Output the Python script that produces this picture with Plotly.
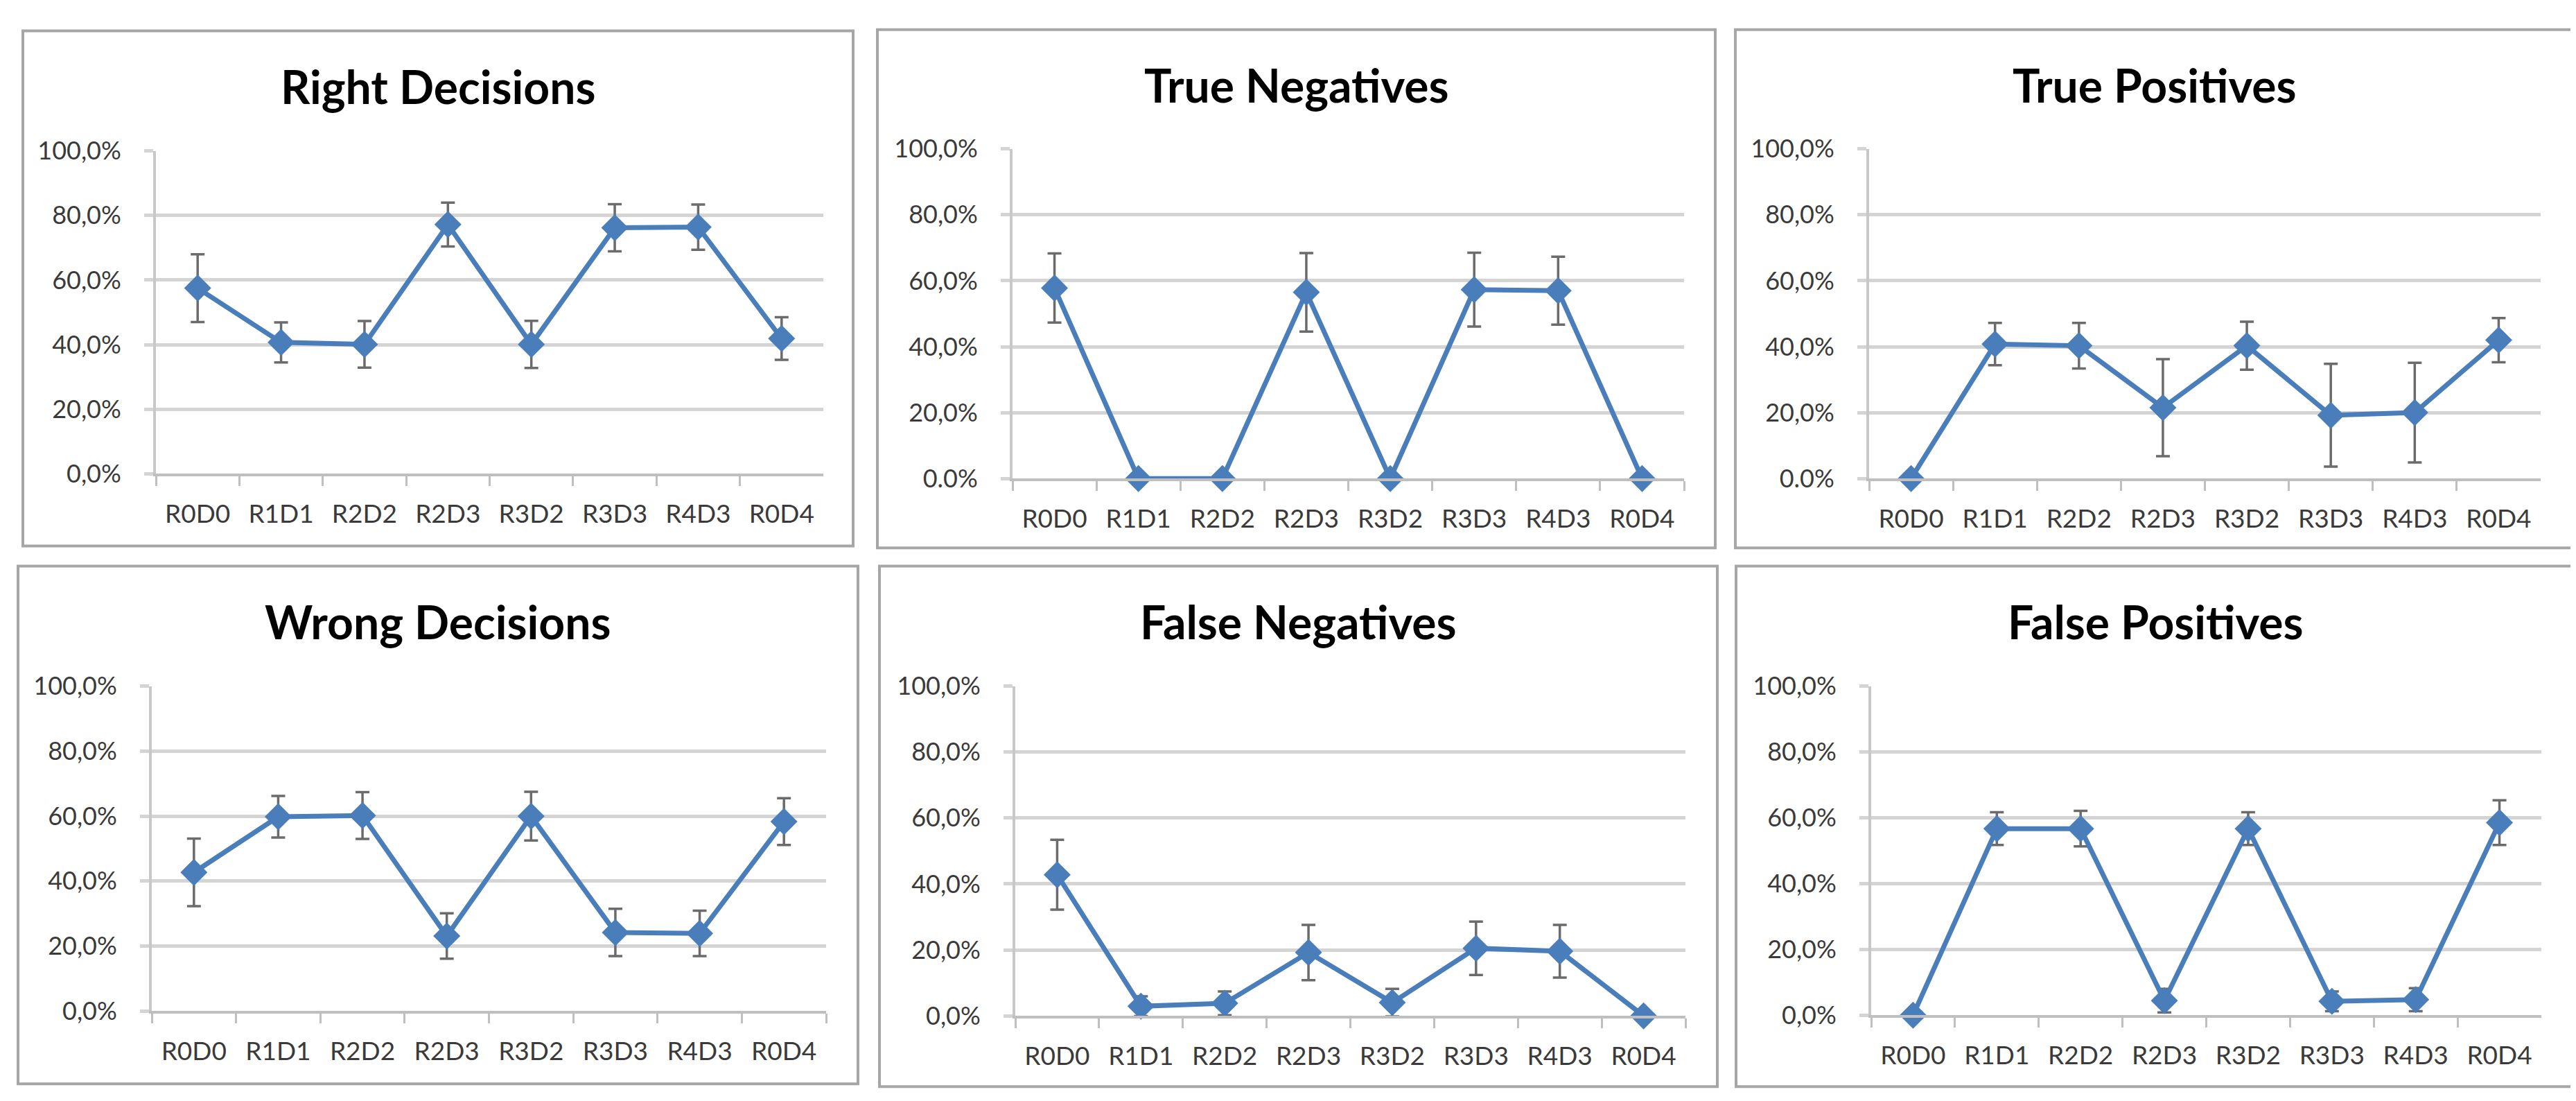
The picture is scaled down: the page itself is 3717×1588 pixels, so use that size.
import plotly.graph_objects as go

W, H = 3717, 1588

categories = ["R0D0", "R1D1", "R2D2", "R2D3", "R3D2", "R3D3", "R4D3", "R0D4"]

titles = ["Right Decisions", "True Negatives", "True Positives",
          "Wrong Decisions", "False Negatives", "False Positives"]

right_decisions = [0.575, 0.407, 0.401, 0.772, 0.401, 0.762, 0.764, 0.419]
right_err = [0.105, 0.062, 0.072, 0.068, 0.073, 0.073, 0.070, 0.066]

true_negatives = [0.578, 0.0, 0.0, 0.565, 0.0, 0.573, 0.570, 0.0]
true_neg_err = [0.105, 0.0, 0.0, 0.119, 0.0, 0.112, 0.103, 0.0]

true_positives = [0.0, 0.408, 0.403, 0.215, 0.403, 0.192, 0.200, 0.420]
true_pos_err = [0.0, 0.064, 0.069, 0.147, 0.073, 0.156, 0.151, 0.067]

wrong_decisions = [0.427, 0.598, 0.602, 0.231, 0.600, 0.242, 0.239, 0.583]
wrong_err = [0.104, 0.064, 0.072, 0.070, 0.075, 0.073, 0.070, 0.072]

false_negatives = [0.428, 0.029, 0.038, 0.192, 0.040, 0.205, 0.196, 0.0]
false_neg_err = [0.106, 0.030, 0.036, 0.084, 0.042, 0.081, 0.080, 0.0]

false_positives = [0.0, 0.567, 0.567, 0.044, 0.567, 0.042, 0.047, 0.585]
false_pos_err = [0.0, 0.050, 0.054, 0.036, 0.050, 0.030, 0.035, 0.068]

y_tick_vals = [0.0, 0.2, 0.4, 0.6, 0.8, 1.0]
y_ticks_comma = ["0,0%", "20,0%", "40,0%", "60,0%", "80,0%", "100,0%"]
y_ticks_dot0 = ["0.0%", "20,0%", "40,0%", "60,0%", "80,0%", "100,0%"]

series = [right_decisions, true_negatives, true_positives,
          wrong_decisions, false_negatives, false_positives]
errors = [right_err, true_neg_err, true_pos_err,
          wrong_err, false_neg_err, false_pos_err]
tick_texts = [y_ticks_comma, y_ticks_dot0, y_ticks_dot0,
              y_ticks_comma, y_ticks_comma, y_ticks_comma]

# layout (pixel geometry)
plot_areas = [  # x0, x1, ytop, ybottom
    (217, 1180, 192, 671),
    (1453, 2422, 189, 678),
    (2689, 3658, 189, 678),
    (211, 1184, 986, 1468),
    (1457, 2424, 986, 1475),
    (2692, 3659, 986, 1474),
]
boxes = [  # x0, x1, y0, y1
    (25, 1223, 14, 778),
    (1258, 2467, 12, 781),
    (2496, 3705, 12, 781),
    (18, 1230, 808, 1576),
    (1261, 2470, 808, 1580),
    (2497, 3708, 808, 1580),
]
title_y = [96, 94, 94, 890, 890, 890]

BLUE = "#4a7ebb"
GRID = "#d4d4d4"
AXIS = "#bfbfbf"
FONT = "Lato, Carlito, 'Open Sans', sans-serif"

fig = go.Figure()
layout = dict(width=W, height=H, margin=dict(l=0, r=0, t=0, b=0),
              paper_bgcolor="white", plot_bgcolor="white", showlegend=False,
              font=dict(family=FONT, size=36, color="#404040"))
shapes = []
annotations = []

for i in range(6):
    n = "" if i == 0 else str(i + 1)
    x0, x1, yt, yb = plot_areas[i]
    fig.add_trace(go.Scatter(
        x=categories, y=series[i], mode="lines+markers",
        xaxis="x" + n, yaxis="y" + n, cliponaxis=False,
        line=dict(color=BLUE, width=7),
        marker=dict(symbol="diamond", size=30, color=BLUE),
        error_y=dict(type="data", array=errors[i], visible=True,
                     color="#6b6b6b", thickness=3.5, width=10),
        hoverinfo="x+y",
    ))
    layout["xaxis" + n] = dict(
        domain=[x0 / W, x1 / W], anchor="y" + n, type="category",
        range=[-0.5, 7.5], tickson="boundaries", ticks="outside", ticklen=14,
        tickwidth=3, tickcolor=AXIS, showline=True, linecolor=AXIS, linewidth=4,
        showgrid=False, ticklabelstandoff=22,
        tickfont=dict(family=FONT, size=37, color="#3a3a3a"),
        fixedrange=True,
    )
    layout["yaxis" + n] = dict(
        domain=[1 - yb / H, 1 - yt / H], anchor="x" + n, range=[0, 1],
        tickvals=y_tick_vals, ticktext=tick_texts[i], ticks="outside",
        ticklen=13, tickwidth=5, tickcolor=GRID, showgrid=True,
        gridcolor=GRID, gridwidth=5, zeroline=False, showline=True,
        linecolor="#c8c8c8", linewidth=4, ticklabelstandoff=26,
        tickfont=dict(family=FONT, size=36, color="#3a3a3a"),
        fixedrange=True,
    )
    bx0, bx1, by0, by1 = boxes[i]
    shapes.append(dict(type="rect", xref="paper", yref="paper",
                       x0=bx0 / W, x1=bx1 / W, y0=1 - by1 / H, y1=1 - by0 / H,
                       line=dict(color="#a6a6a6", width=4), fillcolor="rgba(0,0,0,0)",
                       layer="below"))
    annotations.append(dict(text=titles[i], xref="paper", yref="paper",
                            x=(bx0 + bx1) / 2 / W, y=1 - title_y[i] / H,
                            xanchor="center", yanchor="middle", showarrow=False,
                            font=dict(family=FONT, size=66, color="black", weight="bold")))

layout["shapes"] = shapes
layout["annotations"] = annotations
fig.update_layout(**layout)
fig.write_html("out.html")
